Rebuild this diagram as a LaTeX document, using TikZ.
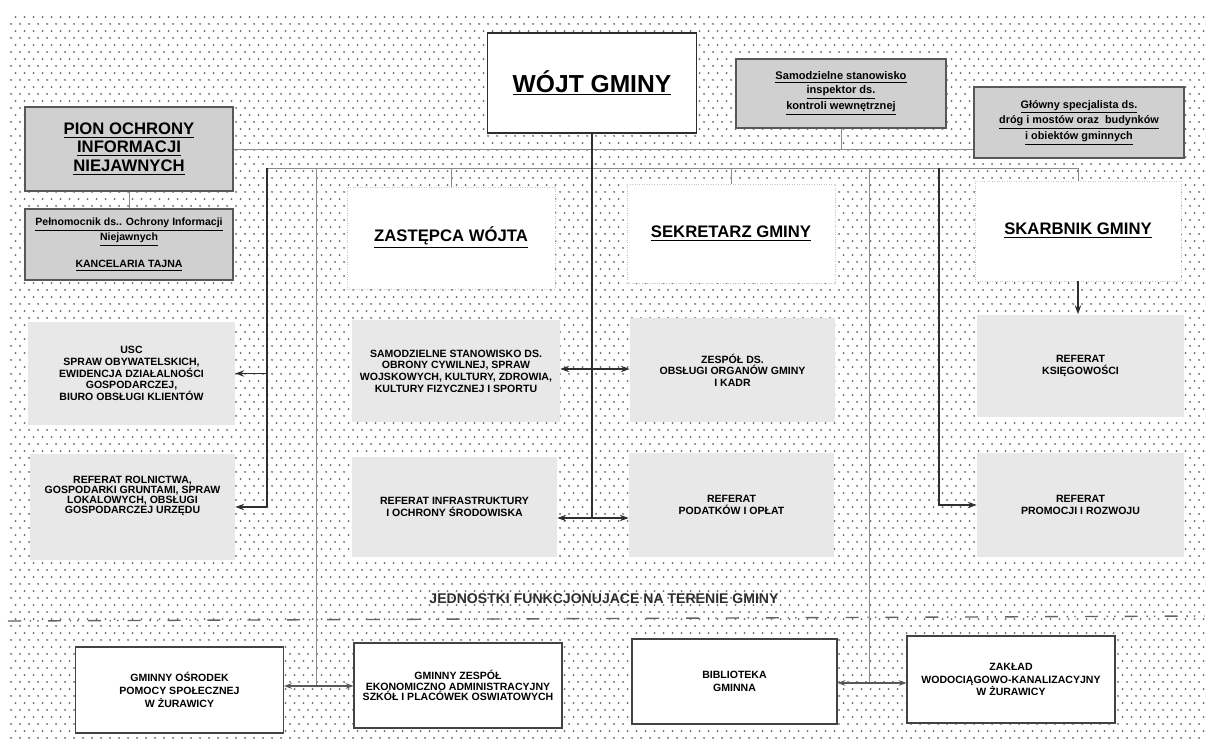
\documentclass[tikz,border=0pt]{standalone}
\usepackage{fontspec}
\setmainfont{Liberation Sans}
\usetikzlibrary{arrows.meta,patterns}
\definecolor{boxgray}{HTML}{D0D0D0}
\definecolor{unitgray}{HTML}{E8E8E8}
\definecolor{dotgray}{HTML}{6E6E6E}
\definecolor{linedark}{HTML}{2E2E2E}
\definecolor{linegray}{HTML}{8A8A8A}
\pgfdeclarepatternformonly{sparsedots}{\pgfpointorigin}{\pgfpoint{5.1pt}{7.9pt}}{\pgfpoint{5.1pt}{7.9pt}}{%
  \pgfpathcircle{\pgfpoint{1.2pt}{1.2pt}}{0.6pt}%
  \pgfpathcircle{\pgfpoint{3.75pt}{5.15pt}}{0.6pt}%
  \pgfusepath{fill}}
\newcommand{\boxfont}[1]{\fontsize{6}{#1}\selectfont\bfseries}
\tikzset{
  every node/.style={align=center, inner sep=0pt},
  chiefbox/.style={draw=linedark, line width=0.8pt, fill=white, minimum width=4.18cm, minimum height=2cm, font=\fontsize{14}{16}\selectfont\bfseries},
  deputybox/.style={draw=gray!45, densely dotted, line width=0.4pt, fill=white, minimum width=4.16cm, minimum height=2cm, font=\fontsize{9.5}{11}\selectfont\bfseries},
  staffbox/.style={draw=linedark!80, line width=0.6pt, fill=boxgray, minimum width=4.18cm, font=\fontsize{6.3}{7.8}\selectfont\bfseries},
  unitbox/.style={fill=unitgray, minimum width=4.14cm, minimum height=2.06cm, font=\boxfont{6.6}},
  townbox/.style={draw=linedark!90, line width=0.6pt, fill=white, minimum width=4.16cm, minimum height=1.72cm, font=\boxfont{7}},
  thinlink/.style={draw=linegray, line width=0.5pt},
  mainlink/.style={draw=linedark, line width=0.8pt},
  arrlink/.style={mainlink, -{Stealth[length=5pt,width=3.6pt]}},
  twoway/.style={draw=linedark!80, line width=0.6pt, {Stealth[length=4.5pt,width=3.2pt]}-{Stealth[length=4.5pt,width=3.2pt]}},
  divider/.style={draw=linedark!75, line width=0.8pt, dash pattern=on 7.4pt off 5pt on 0.8pt off 3.5pt on 0.8pt off 5.2pt}
}

\begin{document}
\begin{tikzpicture}[x=0.02cm, y=-0.02cm]
  \useasboundingbox (0,0) rectangle (1205,740);
  \fill[white] (0,0) rectangle (1205,740);
  \fill[pattern=sparsedots, pattern color=dotgray] (8,15) rectangle (1205,740);

  % top level
  \node[chiefbox] (wojt) at (592,83) {\underline{WÓJT GMINY}};
  \node[staffbox, minimum width=4.2cm, minimum height=1.38cm] (samodz) at (841,93.5)
    {\underline{Samodzielne stanowisko}\\\underline{inspektor ds.}\\\underline{kontroli wewnętrznej}};
  \node[staffbox, minimum width=4.2cm, minimum height=1.42cm, font=\fontsize{6.2}{7.6}\selectfont\bfseries] (glowny) at (1079,122.5)
    {\underline{Główny specjalista ds.}\\\underline{dróg i mostów oraz\ \ budynków}\\\underline{i obiektów gminnych}};
  \node[staffbox, minimum width=4.16cm, minimum height=1.68cm, font=\fontsize{9.5}{10.6}\selectfont\bfseries] (pion) at (129,149)
    {\underline{PION OCHRONY}\\\underline{INFORMACJI}\\\underline{NIEJAWNYCH}};
  \node[staffbox, minimum width=4.16cm, minimum height=1.42cm, font=\fontsize{6}{6.9}\selectfont\bfseries] (pelnom) at (129,244.5)
    {\underline{Pełnomocnik ds.. Ochrony Informacji}\\\underline{Niejawnych}\\[7pt]\underline{KANCELARIA TAJNA}};

  % deputies
  \node[deputybox, minimum height=2.04cm] (zast) at (451,238) {\underline{ZASTĘPCA WÓJTA}};
  \node[deputybox, minimum height=1.98cm] (sekr) at (731,233.5) {\underline{SEKRETARZ GMINY}};
  \node[deputybox, minimum width=4.12cm] (skarb) at (1078,231) {\underline{SKARBNIK GMINY}};

  % departments
  \node[unitbox] (usc) at (131.5,373.5)
    {USC\\SPRAW OBYWATELSKICH,\\EWIDENCJA DZIAŁALNOŚCI\\GOSPODARCZEJ,\\BIURO OBSŁUGI KLIENTÓW};
  \node[unitbox, minimum width=4.1cm, minimum height=2.12cm, font=\boxfont{5.6}] (rol) at (132.5,507)
    {REFERAT ROLNICTWA,\\GOSPODARKI GRUNTAMI, SPRAW\\LOKALOWYCH, OBSŁUGI\\GOSPODARCZEJ URZĘDU\\[8pt]};
  \node[unitbox, minimum width=4.16cm] (samst) at (456,371)
    {SAMODZIELNE STANOWISKO DS.\\OBRONY CYWILNEJ, SPRAW\\WOJSKOWYCH, KULTURY, ZDROWIA,\\KULTURY FIZYCZNEJ I SPORTU};
  \node[unitbox, minimum width=4.1cm, minimum height=2cm] (infra) at (454.5,507)
    {REFERAT INFRASTRUKTURY\\I OCHRONY ŚRODOWISKA};
  \node[unitbox, minimum width=4.1cm, minimum height=2.08cm] (zespol) at (732.5,370)
    {ZESPÓŁ DS.\\OBSŁUGI ORGANÓW GMINY\\I KADR};
  \node[unitbox, minimum width=4.1cm, minimum height=2.08cm] (podatki) at (731.5,505)
    {REFERAT\\PODATKÓW I OPŁAT};
  \node[unitbox] (ksieg) at (1080.5,366) {REFERAT\\KSIĘGOWOŚCI};
  \node[unitbox, minimum height=2.08cm] (prom) at (1080.5,505) {REFERAT\\PROMOCJI I ROZWOJU};

  % local units
  \node[font=\fontsize{8}{9}\selectfont\bfseries, text=linedark] (jedn) at (604,599)
    {JEDNOSTKI FUNKCJONUJACE NA TERENIE GMINY};
  \node[townbox, font=\boxfont{7.6}] (osrodek) at (179.5,690) {GMINNY OŚRODEK\\POMOCY SPOŁECZNEJ\\W ŻURAWICY};
  \node[townbox, minimum height=1.7cm, font=\boxfont{5.8}] (zespolgm) at (458,685.5)
    {GMINNY ZESPÓŁ\\EKONOMICZNO ADMINISTRACYJNY\\SZKÓŁ I PLACÓWEK OSWIATOWYCH};
  \node[townbox, minimum width=4.1cm, minimum height=1.7cm] (bibl) at (734.5,681.5) {BIBLIOTEKA\\GMINNA};
  \node[townbox, minimum height=1.74cm] (zaklad) at (1011,679.5) {ZAKŁAD\\WODOCIĄGOWO-KANALIZACYJNY\\W ŻURAWICY};

  \draw[divider] (8,621) -- (1205,616);

  % rows and columns of connectors
  \coordinate (r2w) at (267,168);
  \coordinate (r2e) at (1078,168);
  \coordinate (vB) at (316,168);
  \coordinate (vC) at (869,168);
  \coordinate (vD) at (939,168);
  \coordinate (m1) at (592,369);
  \coordinate (m2) at (592,518);
  \coordinate (jB) at (316,686);
  \coordinate (jC) at (869,683);

  \draw[thinlink] (pion) -- (pelnom);
  \draw[thinlink] (pion.east) -- (pion.east -| glowny.west);
  \draw[thinlink] (samodz.south) -- (samodz.south |- pion.east);
  \draw[thinlink] (r2w) -- (r2e);
  \foreach \n in {zast,sekr,skarb}
    \draw[thinlink] (\n.north) -- (\n.north |- r2w);

  \draw[mainlink] (wojt.south) -- (m2);
  \draw[arrlink] (m1) -- (m1 -| samst.east);
  \draw[arrlink] (m1) -- (m1 -| zespol.west);
  \draw[arrlink] (m2) -- (m2 -| infra.east);
  \draw[arrlink] (m2) -- (m2 -| podatki.west);

  \draw[mainlink] (r2w) -- (r2w |- rol.east);
  \draw[arrlink] (r2w |- usc.east) -- (usc.east);
  \draw[arrlink] (r2w |- rol.east) -- (rol.east);

  \draw[thinlink] (vB) -- (jB);
  \draw[twoway] (jB -| osrodek.east) -- (jB -| zespolgm.west);
  \draw[thinlink] (vC) -- (jC);
  \draw[twoway] (jC -| bibl.east) -- (jC -| zaklad.west);

  \draw[arrlink] (vD) |- (prom.west);
  \draw[arrlink] (skarb.south) -- (skarb.south |- ksieg.north);
\end{tikzpicture}
\end{document}
